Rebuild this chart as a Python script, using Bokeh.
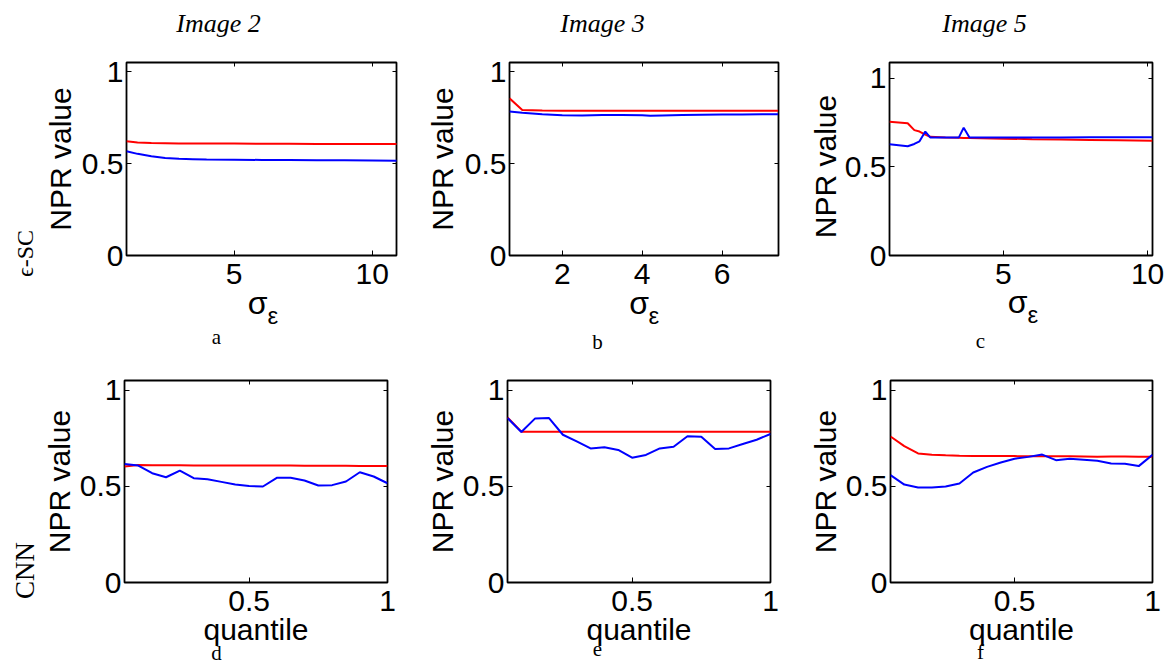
from math import pi
from bokeh.plotting import figure
from bokeh.layouts import column, row
from bokeh.models import Label, LinearAxis, FixedTicker, Range1d, CustomJSTickFormatter
from bokeh.embed import file_html
from bokeh.resources import INLINE

# ---------------- data ----------------
col_titles = ["Image 2", "Image 3", "Image 5"]
row_titles = ["ϵ-SC", "CNN"]
panel_letters = ["a", "b", "c", "d", "e", "f"]
y_label = "NPR value"
x_label_q = "quantile"
sigma_sym = "σ"
eps_sub = "ε"

y_ticks = [0, 0.5, 1]
y_tick_labels = ["0", "0.5", "1"]

# top row (x = sigma_epsilon)
sigma_a = [1.1, 1.5, 2.0, 2.5, 3.0, 3.5, 4.0, 5.0, 6.0, 7.0, 8.0, 9.0, 10.0, 10.9]
red_a = [0.621, 0.615, 0.612, 0.611, 0.610, 0.609, 0.609, 0.609, 0.608, 0.608, 0.607, 0.607, 0.606, 0.606]
blue_a = [0.567, 0.553, 0.540, 0.531, 0.526, 0.524, 0.522, 0.521, 0.520, 0.519, 0.518, 0.518, 0.517, 0.516]
xticks_a = [5, 10]
xtick_labels_a = ["5", "10"]

sigma_b = [0.68, 1.0, 1.5, 2.0, 2.5, 3.0, 3.5, 4.0, 4.2, 4.5, 5.0, 5.5, 6.0, 6.5, 7.0, 7.4]
red_b = [0.855, 0.792, 0.789, 0.788, 0.787, 0.787, 0.787, 0.787, 0.787, 0.787, 0.787, 0.787, 0.787, 0.787, 0.787, 0.787]
blue_b = [0.784, 0.776, 0.768, 0.763, 0.762, 0.764, 0.764, 0.763, 0.760, 0.762, 0.765, 0.766, 0.767, 0.767, 0.768, 0.768]
xticks_b = [2, 4, 6]
xtick_labels_b = ["2", "4", "6"]

sigma_c = [1.06, 1.69, 1.92, 2.10, 2.30, 2.47, 3.0, 3.46, 3.63, 3.83, 5.0, 6.0, 7.0, 8.0, 9.0, 10.17]
red_c = [0.756, 0.747, 0.708, 0.700, 0.683, 0.670, 0.667, 0.665, 0.664, 0.663, 0.660, 0.657, 0.655, 0.653, 0.651, 0.648]
blue_c = [0.628, 0.617, 0.630, 0.645, 0.700, 0.667, 0.666, 0.666, 0.722, 0.667, 0.667, 0.667, 0.667, 0.668, 0.668, 0.668]
xticks_c = [5, 10]
xtick_labels_c = ["5", "10"]

# bottom row (x = quantile)
quantile = [0.05, 0.10, 0.15, 0.20, 0.25, 0.30, 0.35, 0.40, 0.45, 0.50,
            0.55, 0.60, 0.65, 0.70, 0.75, 0.80, 0.85, 0.90, 0.95, 1.00]
red_d = [0.603, 0.611, 0.610, 0.609, 0.609, 0.608, 0.608, 0.608, 0.608, 0.608,
         0.608, 0.608, 0.608, 0.607, 0.607, 0.607, 0.607, 0.606, 0.606, 0.606]
blue_d = [0.616, 0.608, 0.568, 0.547, 0.582, 0.542, 0.537, 0.523, 0.509, 0.501,
          0.499, 0.544, 0.544, 0.530, 0.504, 0.506, 0.525, 0.573, 0.551, 0.516]
red_e = [0.858, 0.784, 0.784, 0.784, 0.784, 0.784, 0.784, 0.784, 0.784, 0.784,
         0.784, 0.784, 0.784, 0.784, 0.784, 0.784, 0.784, 0.784, 0.784, 0.784]
blue_e = [0.855, 0.782, 0.853, 0.855, 0.768, 0.734, 0.697, 0.703, 0.689, 0.649,
          0.663, 0.697, 0.706, 0.760, 0.758, 0.694, 0.697, 0.720, 0.742, 0.772]
red_f = [0.759, 0.709, 0.671, 0.664, 0.661, 0.659, 0.658, 0.658, 0.657, 0.657,
         0.656, 0.656, 0.656, 0.656, 0.655, 0.654, 0.655, 0.655, 0.654, 0.654]
blue_f = [0.558, 0.509, 0.494, 0.494, 0.499, 0.515, 0.572, 0.601, 0.624, 0.643,
          0.653, 0.665, 0.636, 0.643, 0.638, 0.633, 0.619, 0.617, 0.605, 0.664]
xticks_q = [0.5, 1]
xtick_labels_q = ["0.5", "1"]

RED = "#ff0000"
BLUE = "#0000ff"
SANS = "Liberation Sans"
SERIF = "Liberation Serif"
W_TOTAL, H_TOTAL = 1166, 665


def panel(xs, red, blue, xr, yr_top, xticks, xtick_labels, W, H, bl, br, bt, bb):
    p = figure(width=W, height=H, x_range=Range1d(*xr), y_range=Range1d(0, yr_top),
               output_backend="svg", toolbar_location=None,
               min_border_left=bl, min_border_right=br, min_border_top=bt, min_border_bottom=bb)
    p.grid.visible = False
    p.outline_line_color = "black"
    p.outline_line_width = 1.8
    p.background_fill_color = "white"
    p.border_fill_color = "white"

    xa = p.xaxis[0]
    xa.ticker = FixedTicker(ticks=xticks)
    xa.major_label_overrides = {t: l for t, l in zip(xticks, xtick_labels)}
    ya = p.yaxis[0]
    ya.ticker = FixedTicker(ticks=y_ticks)
    ya.major_label_overrides = {t: l for t, l in zip(y_ticks, y_tick_labels)}
    for ax in (xa, ya):
        ax.axis_line_color = None
        ax.major_tick_in = 5
        ax.major_tick_out = 0
        ax.major_tick_line_color = "black"
        ax.minor_tick_line_color = None
        ax.major_label_text_font = SANS
        ax.major_label_text_font_size = "30px"
        ax.major_label_text_color = "black"
    xa.major_label_standoff = 8
    ya.major_label_standoff = 3

    for loc, tk in (("above", xticks), ("right", y_ticks)):
        ax = LinearAxis(ticker=FixedTicker(ticks=tk),
                        formatter=CustomJSTickFormatter(code="return ''"),
                        major_tick_in=4, major_tick_out=0, minor_tick_line_color=None,
                        axis_line_color=None, major_label_standoff=0,
                        major_label_text_font_size="1px")
        p.add_layout(ax, loc)

    p.line(xs, red, line_color=RED, line_width=2)
    p.line(xs, blue, line_color=BLUE, line_width=2)
    return p


pa = panel(sigma_a, red_a, blue_a, (1.1, 10.88), 1.05, xticks_a, xtick_labels_a, 414, 350, 126, 18, 62, 95)
pb = panel(sigma_b, red_b, blue_b, (0.68, 7.41), 1.05, xticks_b, xtick_labels_b, 380, 350, 95, 16, 62, 95)
pc = panel(sigma_c, red_c, blue_c, (1.06, 10.17), 1.09, xticks_c, xtick_labels_c, 372, 350, 95, 14, 62, 95)
pd = panel(quantile, red_d, blue_d, (0.05, 1.0), 1.05, xticks_q, xtick_labels_q, 414, 315, 124, 27, 30, 83)
pe = panel(quantile, red_e, blue_e, (0.05, 1.0), 1.05, xticks_q, xtick_labels_q, 380, 315, 93, 24, 30, 83)
pf = panel(quantile, red_f, blue_f, (0.05, 1.0), 1.05, xticks_q, xtick_labels_q, 372, 315, 96, 14, 30, 83)

# ---------------- text layer (overlaid, pixel coordinates from top-left) ----------------
bg = figure(width=W_TOTAL, height=H_TOTAL, x_range=Range1d(0, W_TOTAL), y_range=Range1d(H_TOTAL, 0),
            output_backend="svg", toolbar_location=None, min_border=0,
            x_axis_location=None, y_axis_location=None)
bg.grid.visible = False
bg.outline_line_color = None
bg.background_fill_color = None
bg.border_fill_color = None
bg.margin = (-H_TOTAL, 0, 0, 0)


def lab(text, x, y, size, font=SANS, style="normal", angle=0, align="center"):
    bg.add_layout(Label(x=x, y=y, text=text, text_font=font, text_font_size=size,
                        text_font_style=style, text_color="black", angle=angle,
                        text_align=align, text_baseline="middle"))


for t, cx in zip(col_titles, [218, 602, 984]):
    lab(t, cx, 23, "26px", font=SERIF, style="italic")

lab(row_titles[0], 24, 253, "24px", font=SERIF, angle=pi / 2)
lab(row_titles[1], 24, 570, "27px", font=SERIF, angle=pi / 2)

for cx, cy in [(60, 158.5), (441.5, 158.5), (825, 166), (59, 481), (441.5, 481), (825, 481)]:
    lab(y_label, cx, cy, "30px", angle=pi / 2)

for sx, ex, sy in [(257, 267, 302), (638.5, 648, 302), (1017, 1027, 301)]:
    lab(sigma_sym, sx, sy, "32px")
    lab(eps_sub, ex, sy + 13, "24px", align="left")

for cx in [255.5, 638.5, 1021]:
    lab(x_label_q, cx, 629, "30px")

for letter, cx, cy in zip(panel_letters, [216, 597, 980, 216, 597, 980], [336, 341, 340, 652, 648, 651]):
    lab(letter, cx, cy, "21px", font=SERIF)

layout = column(row(pa, pb, pc), row(pd, pe, pf), bg)
open("out.html", "w").write(file_html(layout, INLINE))
